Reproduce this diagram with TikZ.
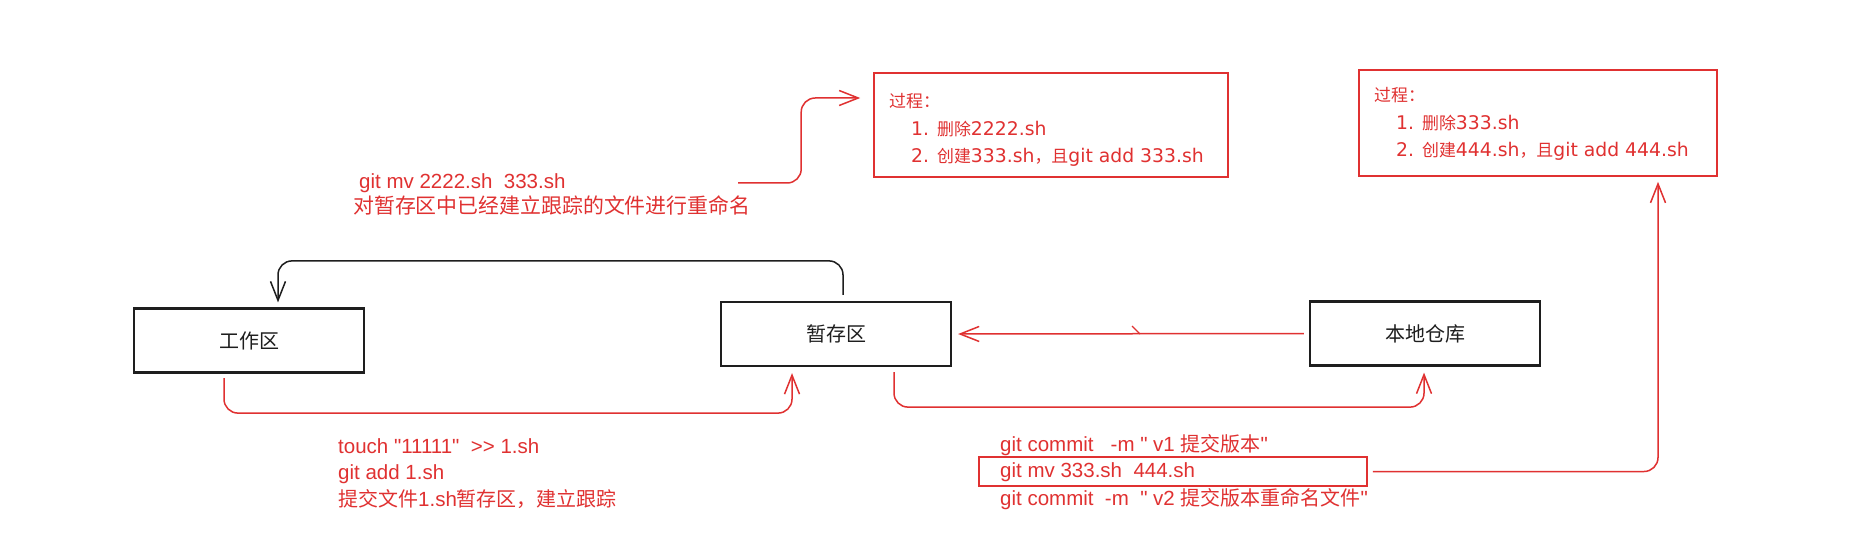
\documentclass[tikz,border=0pt]{standalone}
\usepackage{fontspec}
\newfontfamily\lat{Liberation Sans}
\newfontfamily\latb{DejaVu Sans}
\newfontfamily\cjk{Noto Sans CJK SC}
\newfontfamily\cjkA[Scale=0.975]{Noto Sans CJK SC}
\newfontfamily\cjkB[Scale=0.9]{Noto Sans CJK SC}
\newcommand\CA[1]{{\cjkA #1}}
\newcommand\CB[1]{{\cjkB #1}}
\usetikzlibrary{arrows.meta,calc}
\definecolor{exred}{HTML}{E03131}
\definecolor{exblack}{HTML}{1E1E1E}
\tikzset{
  box/.style={draw=exblack, line width=2.2pt, minimum width=230pt, minimum height=64pt, inner sep=0pt,
    font=\fontsize{20}{24}\selectfont\cjk, text=exblack},
  redbox/.style={draw=exred, line width=1.6pt, inner sep=0pt},
  rtxt/.style={anchor=base west, inner sep=0pt, text=exred, font=\fontsize{20.5}{24}\selectfont\lat},
  btxt/.style={anchor=base west, inner sep=0pt, text=exred, font=\fontsize{18.8}{24}\selectfont\latb},
  redline/.style={draw=exred, line width=1.5pt, rounded corners=14pt},
  blackline/.style={draw=exblack, line width=1.5pt, rounded corners=14pt},
  arrowhd/.style={-{Straight Barb[length=19pt,width=15pt]}}
}
\begin{document}
\begin{tikzpicture}[x=1pt,y=-1pt]
\useasboundingbox (0,0) rectangle (1859,556);
\fill[white] (0,0) rectangle (1859,556);

% main boxes
\node[box] (ws) at (249,340.5) {工作区};
\node[box] (st) at (836,334) {暂存区};
\node[box] (repo) at (1425,333.5) {本地仓库};

% process boxes
\node[redbox, minimum width=354pt, minimum height=104pt] (p1) at (1051,125) {};
\node[btxt] (p1a) at (889,108) {\CB{过程：}};
\node[btxt] (p1b) at (911,136) {1. \CB{删除}2222.sh};
\node[btxt] (p1c) at (911,163) {2. \CB{创建}333.sh\CB{，且}git add 333.sh};

\node[redbox, minimum width=358pt, minimum height=106pt] (p2) at (1538,123) {};
\node[btxt] (p2a) at (1374,102) {\CB{过程：}};
\node[btxt] (p2b) at (1396,130) {1. \CB{删除}333.sh};
\node[btxt] (p2c) at (1396,157) {2. \CB{创建}444.sh\CB{，且}git add 444.sh};

% free texts
\node[rtxt] (mv1) at (359,189) {git mv 2222.sh\ \ 333.sh};
\node[rtxt, font=\fontsize{20.9}{24}\selectfont\cjk] (mv2) at (353,213) {对暂存区中已经建立跟踪的文件进行重命名};

\node[rtxt] (t1) at (338,453) {touch "11111"\ \ >> 1.sh};
\node[rtxt] (t2) at (338,479.5) {git add 1.sh};
\node[rtxt] (t3) at (338,506) {\CA{提交文件}1.sh\CA{暂存区，建立跟踪}};

\node[redbox, minimum width=388pt, minimum height=29pt] (gm) at (1173,471.5) {};
\node[rtxt] (c1) at (1000,451) {git commit\ \ \ -m " v1 \CA{提交版本}"};
\node[rtxt] (c2) at (1000,477) {git mv 333.sh\ \ 444.sh};
\node[rtxt] (c3) at (1000,505) {git commit\ \ -m\ \ " v2 \CA{提交版本重命名文件}"};

% connectors
\draw[blackline, arrowhd] ($(st.north)+(7,-6)$) -- ++(0,-34) -| ($(ws.north)+(29,-5)$);
\draw[redline, arrowhd] ($(ws.south)+(-25,4.5)$) -- ++(0,35) -| ($(st.south)+(-44,6)$);
\draw[redline, arrowhd] ($(st.south)+(58,5)$) -- ++(0,35) -| ($(repo.south)+(-1,6)$);
\draw[redline, arrowhd] ($(repo.west)+(-5,0)$) -- ($(st.east)+(6,0)$);
\draw[exred, line width=1.2pt] (1132,326) -- (1140,334);

\coordinate (s5) at (738,183);
\draw[redline, arrowhd] (s5) -| ($(p1.west)+(-72,-27)$) -- ($(p1.west)+(-13,-27)$);
\draw[redline, arrowhd] ($(gm.east)+(5,0)$) -| ($(p2.south)+(120,5)$);
\end{tikzpicture}
\end{document}
